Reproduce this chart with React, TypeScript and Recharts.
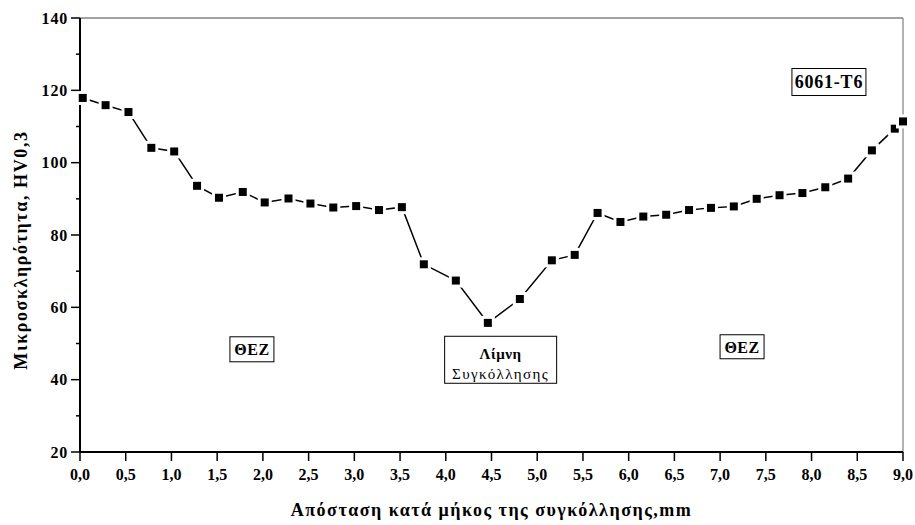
import { LineChart, Line, XAxis, YAxis, ReferenceLine, ReferenceDot, Label } from 'recharts';

// distance along the weld (mm) and HV0,3 readings
const distance = [
  0.03, 0.28, 0.53, 0.78, 1.03, 1.28, 1.52, 1.78, 2.02, 2.28, 2.52, 2.77, 3.02, 3.27, 3.52,
  3.76, 4.11, 4.46, 4.81, 5.16, 5.41, 5.66, 5.91, 6.16, 6.41, 6.66, 6.9, 7.15, 7.4, 7.65,
  7.9, 8.15, 8.4, 8.66, 8.91, 9.0,
];
const hardness = [
  117.9, 115.9, 114, 104.1, 103.1, 93.6, 90.3, 91.9, 89, 90.1, 88.7, 87.6, 88, 86.9, 87.7,
  71.9, 67.4, 55.7, 62.3, 73, 74.5, 86.1, 83.6, 85.1, 85.6, 86.9, 87.5, 87.9, 90, 91,
  91.6, 93.2, 95.6, 103.4, 109.4, 111.4,
];

const xTicks = [0, 0.5, 1, 1.5, 2, 2.5, 3, 3.5, 4, 4.5, 5, 5.5, 6, 6.5, 7, 7.5, 8, 8.5, 9];
const yTicks = [20, 30, 40, 50, 60, 70, 80, 90, 100, 110, 120, 130, 140];
const yLabels = [20, 40, 60, 80, 100, 120, 140];

// text notes, anchored in data coordinates
const noteX = [8.19, 1.88, 7.24, 4.6];
const noteY = [122.3, 48.4, 49.1, 45.5];
const noteText = [['6061-T6'], ['ΘΕΖ'], ['ΘΕΖ'], ['Λίμνη', 'Συγκόλλησης']];

const data = distance.map((d, i) => ({ d, hv: hardness[i] }));

const serif = "'Liberation Serif', 'DejaVu Serif', 'Times New Roman', serif";

const boxSize = [
  { w: 74, h: 27, fs: 18, ls: 0.8 },
  { w: 44, h: 25, fs: 16, ls: 0.5 },
  { w: 44, h: 24, fs: 16, ls: 0.5 },
  { w: 112, h: 47, fs: 15, ls: 1.4 },
];

function YTick(props: any) {
  const { x, y, payload } = props;
  const major = yLabels.includes(payload.value);
  const len = major ? 9 : 4;
  return (
    <g>
      <line x1={x - len} y1={y} x2={x} y2={y} stroke="#000" strokeWidth={1.5} />
      {major && (
        <text
          x={x - len - 3}
          y={y}
          dy={5.5}
          textAnchor="end"
          style={{ fontFamily: serif, fontWeight: 'bold', fontSize: 16, letterSpacing: 0.8 }}
          fill="#000"
        >
          {payload.value}
        </text>
      )}
    </g>
  );
}

function Square(props: any) {
  const { cx, cy } = props;
  if (cx == null || cy == null) return null;
  return <rect x={cx - 5.5} y={cy - 5.5} width={11} height={11} fill="#000" stroke="#fff" strokeWidth={3} />;
}

function Note(i: number) {
  return (props: any) => {
    const { cx, cy } = props;
    const s = boxSize[i];
    const lines = noteText[i];
    return (
      <g>
        <rect x={cx - s.w / 2} y={cy - s.h / 2} width={s.w} height={s.h} fill="#fff" stroke="#000" strokeWidth={1} />
        {lines.map((t, k) => (
          <text
            key={k}
            x={cx}
            y={cy + (lines.length > 1 ? (k - 0.5) * 20 + 4 : 0) + s.fs * 0.36}
            textAnchor="middle"
            style={{
              fontFamily: serif,
              fontWeight: k === 1 ? 'normal' : 'bold',
              fontSize: k === 1 ? s.fs : lines.length > 1 ? 15 : s.fs,
              letterSpacing: k === 1 ? s.ls : lines.length > 1 ? 0.6 : s.ls,
            }}
            fill="#000"
          >
            {t}
          </text>
        ))}
      </g>
    );
  };
}

export default function App() {
  return (
    <div style={{ position: 'absolute', left: 0, top: 0, width: 915, height: 525 }}>
      <LineChart width={915} height={525} data={data} margin={{ top: 18, right: 12, left: 0, bottom: 0 }}>
        <XAxis
          dataKey="d"
          type="number"
          domain={[0, 9]}
          ticks={xTicks}
          interval={0}
          height={73}
          axisLine={{ stroke: '#000', strokeWidth: 2 }}
          tickLine={{ stroke: '#000', strokeWidth: 1.5 }}
          tickSize={9}
          tickMargin={8}
          tickFormatter={(v: number) => v.toFixed(1).replace('.', ',')}
          tick={{ fontFamily: serif, fontWeight: 'bold', fontSize: 16, fill: '#000' }}
        >
          <Label
            value="Απόσταση κατά μήκος της συγκόλλησης,mm"
            position="insideBottom"
            offset={9}
            style={{ fontFamily: serif, fontWeight: 'bold', fontSize: 18, letterSpacing: 1.5, fill: '#000' }}
          />
        </XAxis>
        <YAxis
          type="number"
          domain={[20, 140]}
          ticks={yTicks}
          interval={0}
          width={80}
          axisLine={{ stroke: '#000', strokeWidth: 2 }}
          tickLine={false}
          tickSize={0}
          tickMargin={0}
          tick={<YTick />}
        >
          <Label
            content={(p: any) => {
              const vb = p.viewBox;
              const cy = vb.y + vb.height / 2 + 15;
              return (
                <text
                  x={27}
                  y={cy}
                  transform={`rotate(-90 27 ${cy})`}
                  textAnchor="middle"
                  style={{ fontFamily: serif, fontWeight: 'bold', fontSize: 18, letterSpacing: 1.6 }}
                  fill="#000"
                >
                  Μικροσκληρότητα, HV0,3
                </text>
              );
            }}
          />
        </YAxis>
        <ReferenceLine y={140} stroke="#444" strokeWidth={1} />
        <ReferenceLine x={9} stroke="#666" strokeWidth={1} />
        {noteX.map((nx, i) => (
          <ReferenceDot key={i} x={nx} y={noteY[i]} r={0} shape={Note(i)} />
        ))}
        <Line
          dataKey="hv"
          type="linear"
          stroke="#000"
          strokeWidth={1.5}
          dot={<Square />}
          activeDot={false}
          isAnimationActive={false}
        />
      </LineChart>
    </div>
  );
}
